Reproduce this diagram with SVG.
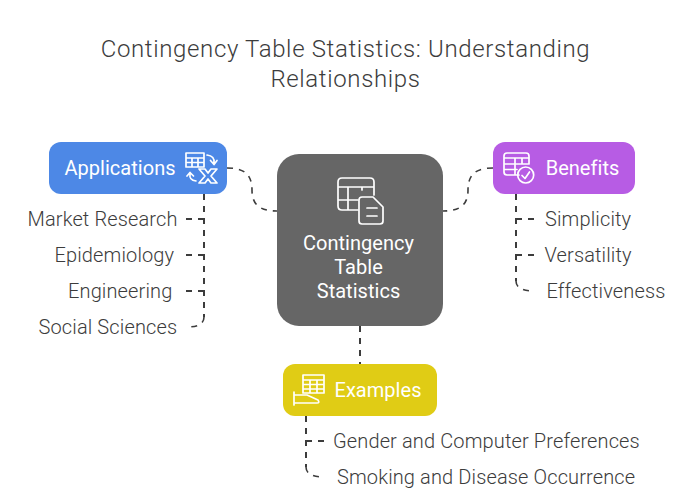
<svg xmlns="http://www.w3.org/2000/svg" width="696" height="500" viewBox="0 0 696 500">
<style>
text{font-family:Roboto,"Liberation Sans",sans-serif}
.t{font-size:24px;font-weight:300;fill:#3c3c3c;text-anchor:middle;letter-spacing:.64px}
.l{font-size:20px;font-weight:300;fill:#3c3c3c;letter-spacing:.13px}
.n{font-size:20px;font-weight:400;fill:#fff;text-anchor:middle;letter-spacing:.03px}
.c{fill:none;stroke:#3c3c3c;stroke-width:2;stroke-dasharray:6 6}
.s{stroke-width:1.6}
.i{fill:none;stroke:#fff;stroke-width:1.7;stroke-linejoin:round;stroke-linecap:round}
</style>
<rect width="696" height="500" fill="#fff"/>
<g id="title"><text class="t" x="345.5" y="57">Contingency Table Statistics: Understanding</text><text class="t" x="345.5" y="87">Relationships</text></g>
<g id="connectors">
<path class="c s" d="M227 168C245 168 252 175 252 190C252 205 260 211 277 211"/>
<path class="c s" d="M493 168C475 168 468 175 468 190C468 205 460 211 443 211"/>
<path class="c" d="M360 326V364"/>
<path class="c" d="M204 194V317"/>
<path class="c s" d="M204 317Q204 327 187 327" stroke-dasharray="5 5"/>
<path class="c" d="M204 219H186M204 255H186M204 291H186"/>
<path class="c" d="M516 194V281"/>
<path class="c s" d="M516 281Q516 291 535 291" stroke-dasharray="5 5"/>
<path class="c" d="M516 219H534M516 255H534"/>
<path class="c" d="M306 416V467"/>
<path class="c s" d="M306 467Q306 477 325 477" stroke-dasharray="5 5"/>
<path class="c" d="M306 441H324"/>
</g>
<g id="center"><rect x="277" y="154" width="166" height="172" rx="22" fill="#666"/>
<path class="i" d="M358 210H342Q338 210 338 206V182Q338 178 342 178H370Q374 178 374 182V195M338 187H374M338 200H358M348 187V210M362 187V190"/>
<path class="i" d="M362 197H373L383 207V221Q383 224 380 224H362Q359 224 359 221V200Q359 197 362 197ZM367 208H377M367 216H377"/>
<text class="n" x="358.500" y="250">Contingency</text><text class="n" x="358.500" y="274">Table</text><text class="n" x="358.500" y="298">Statistics</text></g>
<g id="applications"><rect x="49" y="142" width="178" height="52" rx="12" fill="#4d88e6"/>
<text class="n" x="120" y="175">Applications</text>
<path class="i" d="M186 153H204V167H186ZM186 158H204M186 162.500H204M192 158V167M198 158V167"/>
<path class="i" d="M207 155Q215 156 214 163M210.500 160.500L214 164.500L217 160.500M196 181Q189 180 190 174M187 176L190 172.500L193.500 176"/>
<path class="i" d="M199 169H205L208 173L211 169H217L211 176L217 183H211L208 179L205 183H199L205 176Z"/></g>
<g id="benefits"><rect x="493" y="142" width="142" height="52" rx="12" fill="#b75ce4"/>
<path class="i" d="M519 175H507Q504 175 504 172V156Q504 153 507 153H526Q529 153 529 156V164M504 158H529M504 164H529M504 169.500H517M515 158V175M522 158V164"/>
<circle class="i" cx="525.700" cy="175" r="8"/><path class="i" d="M522 175.500L525 178.500L529.500 172"/>
<text class="n" x="582.500" y="175">Benefits</text></g>
<g id="examples"><rect x="283" y="364" width="154" height="52" rx="12" fill="#e0cc15"/>
<path class="i" d="M303 375H324V393H303ZM303 380H324M303 384.500H324M303 389H324M310 380V393M317 380V393"/>
<path class="i" d="M294 392V405M294 395H307L318 400Q320 403 317 403H294"/>
<text class="n" x="378" y="397">Examples</text></g>
<g id="labels">
<text class="l" x="27.500" y="226">Market Research</text>
<text class="l" x="54.500" y="262">Epidemiology</text>
<text class="l" x="68" y="298">Engineering</text>
<text class="l" x="38.500" y="334">Social Sciences</text>
<text class="l" x="545" y="226">Simplicity</text>
<text class="l" x="544.500" y="262">Versatility</text>
<text class="l" x="546.500" y="298">Effectiveness</text>
<text class="l" x="333" y="448">Gender and Computer Preferences</text>
<text class="l" x="337" y="484">Smoking and Disease Occurrence</text>
</g>
</svg>
